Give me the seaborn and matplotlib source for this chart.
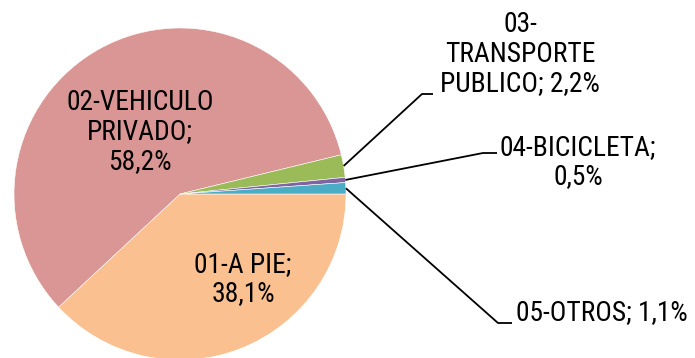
import matplotlib
matplotlib.use("Agg")
import matplotlib.pyplot as plt
import seaborn as sns
import numpy as np

# Modal split of trips
categories = ["01-A PIE", "02-VEHICULO PRIVADO", "03-TRANSPORTE PUBLICO",
              "04-BICICLETA", "05-OTROS"]
shares = [38.1, 58.2, 2.2, 0.5, 1.1]
labels = ["01-A PIE;\n38,1%", "02-VEHICULO\nPRIVADO;\n58,2%",
          "03-\nTRANSPORTE\nPUBLICO; 2,2%", "04-BICICLETA;\n0,5%",
          "05-OTROS; 1,1%"]
colors = ["#FAC090", "#D99694", "#9BBB59", "#8064A2", "#4BACC6"]

sns.set_theme(style="white")
plt.rcParams["font.family"] = ["Roboto Condensed", "Liberation Sans", "DejaVu Sans"]
plt.rcParams["text.color"] = "black"

W, H = 695, 358
fig = plt.figure(figsize=(W / 100, H / 100), dpi=100)
ax = fig.add_axes([0, 0, 1, 1])

cx, cy, r = 180, H - 194, 166
wedges, _ = ax.pie(shares, colors=colors, startangle=0, counterclock=False,
                   center=(cx, cy), radius=r,
                   wedgeprops=dict(edgecolor="white", linewidth=0.4))
ax.set_xlim(0, W)
ax.set_ylim(0, H)
ax.set_aspect("auto")
ax.axis("off")

fs = 19.8
# labels inside the two large slices
ax.text(140, H - 132, labels[1], ha="center", va="center", fontsize=fs,
        linespacing=1.1, color="black")
ax.text(243, H - 279, labels[0], ha="center", va="center", fontsize=fs,
        linespacing=1.1, color="black")

# outside labels with leader lines for the small slices
outside = {
    2: dict(elbow=(422, 94), end=(433, 94), text=(520, 54), ha="center"),
    3: dict(elbow=(483, 153), end=(497, 153), text=(578, 162), ha="center"),
    4: dict(elbow=(498, 323), end=(512, 323), text=(516, 313), ha="left"),
}
for i, spec in outside.items():
    w = wedges[i]
    mid = np.deg2rad((w.theta1 + w.theta2) / 2)
    x0, y0 = cx + r * np.cos(mid), cy + r * np.sin(mid)
    ex, ey = spec["elbow"]
    tx, ty = spec["end"]
    ax.plot([x0, ex, tx], [y0, H - ey, H - ty], color="black", lw=1.3,
            solid_capstyle="butt")
    lx, ly = spec["text"]
    ax.text(lx, H - ly, labels[i], ha=spec["ha"], va="center", fontsize=fs,
            linespacing=1.1, color="black")

fig.savefig("out.png", dpi=100, facecolor="white")
